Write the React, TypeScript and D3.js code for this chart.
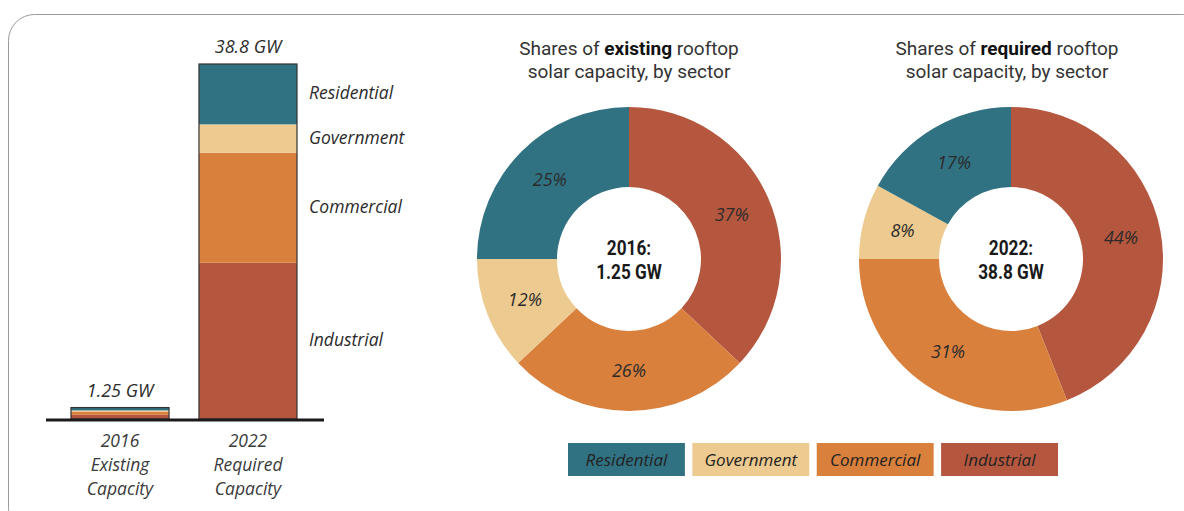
import React from 'react';
import * as d3 from 'd3';

const sectors = ['Residential', 'Government', 'Commercial', 'Industrial'];
const sectorColors = ['#317282', '#EDCA8F', '#D9803D', '#B5573E'];

const years = ['2016', '2022'];
const yearTotals = [1.25, 38.8];
const totalLabels = ['1.25 GW', '38.8 GW'];
const yearLabels = [
  ['2016', 'Existing', 'Capacity'],
  ['2022', 'Required', 'Capacity'],
];

// shares in % per sector (Residential, Government, Commercial, Industrial)
const shares2016 = [25, 12, 26, 37];
const shares2022 = [17, 8, 31, 44];

// pie order clockwise from 12 o'clock
const pieOrder = ['Industrial', 'Commercial', 'Government', 'Residential'];

const italic = "'Open Sans', sans-serif";
const narrow = "'Roboto', sans-serif";

const W = 1184;
const H = 511;

const BarPanel: React.FC = () => {
  const x = d3.scaleBand().domain(years).range([71, 297]).paddingInner(0.234).paddingOuter(0);
  const y = d3.scaleLinear().domain([0, 38.8]).range([419, 64]);
  const allShares = [shares2016, shares2022];

  const stacks = years.map((yr, i) => {
    const row: Record<string, number> = {};
    sectors.forEach((s, j) => (row[s] = (allShares[i][j] / 100) * yearTotals[i]));
    return row;
  });
  // bottom to top: Industrial, Commercial, Government, Residential
  const stackGen = d3.stack<Record<string, number>>().keys([...sectors].reverse());
  const series = stackGen(stacks);
  const bw = x.bandwidth();

  return (
    <g>
      {series.map((s) => {
        const color = sectorColors[sectors.indexOf(s.key)];
        return s.map((d, i) => (
          <rect
            key={s.key + i}
            x={x(years[i])!}
            y={y(d[1])}
            width={bw}
            height={y(d[0]) - y(d[1])}
            fill={color}
          />
        ));
      })}
      {years.map((yr, i) => (
        <rect
          key={'o' + yr}
          x={x(yr)!}
          y={y(yearTotals[i])}
          width={bw}
          height={y(0) - y(yearTotals[i])}
          fill="none"
          stroke="#333"
          strokeWidth={1.2}
        />
      ))}
      <line x1={46} x2={324} y1={y(0) + 1} y2={y(0) + 1} stroke="#1a1a1a" strokeWidth={3} />
      {years.map((yr, i) => (
        <text
          key={'t' + yr}
          x={x(yr)! + bw / 2}
          y={y(yearTotals[i]) - 11}
          textAnchor="middle"
          fontFamily={italic}
          fontStyle="italic"
          fontSize={18}
          fill="#2b2b2b"
        >
          {totalLabels[i]}
        </text>
      ))}
      {years.map((yr, i) =>
        yearLabels[i].map((l, k) => (
          <text
            key={'l' + yr + k}
            x={x(yr)! + bw / 2}
            y={447 + k * 24}
            textAnchor="middle"
            fontFamily={italic}
            fontStyle="italic"
            fontSize={17.5}
            fill="#3a3a3a"
          >
            {l}
          </text>
        ))
      )}
      {series.map((s) => {
        const d = s[1];
        return (
          <text
            key={'s' + s.key}
            x={x('2022')! + bw + 12}
            y={(y(d[0]) + y(d[1])) / 2 + 5}
            fontFamily={italic}
            fontStyle="italic"
            fontSize={17.5}
            fill="#2b2b2b"
          >
            {s.key}
          </text>
        );
      })}
    </g>
  );
};

type DonutProps = {
  cx: number;
  titleDx: number;
  shares: number[];
  titleBold: string;
  center: string[];
};

const Donut: React.FC<DonutProps> = ({ cx, titleDx, shares, titleBold, center }) => {
  const cy = 259;
  const outer = 152;
  const inner = 72;
  const data = pieOrder.map((s) => ({ key: s, value: shares[sectors.indexOf(s)] }));
  const pie = d3
    .pie<{ key: string; value: number }>()
    .sort(null)
    .value((d) => d.value);
  const arcs = pie(data);
  const arc = d3
    .arc<d3.PieArcDatum<{ key: string; value: number }>>()
    .innerRadius(inner)
    .outerRadius(outer);
  const labelArc = d3
    .arc<d3.PieArcDatum<{ key: string; value: number }>>()
    .innerRadius(112)
    .outerRadius(112);

  return (
    <g transform={`translate(${cx},${cy})`}>
      {arcs.map((a) => (
        <path key={a.data.key} d={arc(a)!} fill={sectorColors[sectors.indexOf(a.data.key)]} />
      ))}
      {arcs.map((a) => {
        const [lx, ly] = labelArc.centroid(a);
        return (
          <text
            key={'p' + a.data.key}
            x={lx}
            y={ly + 6}
            textAnchor="middle"
            fontFamily={italic}
            fontStyle="italic"
            fontSize={18}
            fill="#2b2b2b"
          >
            {a.data.value}%
          </text>
        );
      })}
      <text textAnchor="middle" x={titleDx} y={-204} fontFamily={narrow} fontSize={19} fill="#333">
        Shares of <tspan fontWeight="bold" fill="#111">{titleBold}</tspan> rooftop
      </text>
      <text textAnchor="middle" x={titleDx} y={-181} fontFamily={narrow} fontSize={19} fill="#333">
        solar capacity, by sector
      </text>
      {center.map((c, i) => (
        <text
          key={c}
          textAnchor="middle"
          transform={`translate(0,${-4 + i * 24}) scale(0.82,1)`}
          fontFamily={narrow}
          fontWeight="bold"
          fontSize={21}
          fill="#1a1a1a"
        >
          {c}
        </text>
      ))}
    </g>
  );
};

const Legend: React.FC = () => {
  const lx = d3.scaleBand().domain(sectors).range([568, 1058]).paddingInner(0.06);
  return (
    <g>
      {sectors.map((s, i) => (
        <g key={s}>
          <rect x={lx(s)!} y={443} width={lx.bandwidth()} height={33} fill={sectorColors[i]} />
          <text
            x={lx(s)! + lx.bandwidth() / 2}
            y={466}
            textAnchor="middle"
            fontFamily={italic}
            fontStyle="italic"
            fontSize={17}
            fill="#222"
          >
            {s}
          </text>
        </g>
      ))}
    </g>
  );
};

const App: React.FC = () => {
  return (
    <svg
      width={W}
      height={H}
      style={{ position: 'absolute', left: 0, top: 0, background: '#fff' }}
    >
      <rect x={8.5} y={14.5} width={1200} height={520} rx={26} fill="none" stroke="#9a9a9a" strokeWidth={1} />
      <BarPanel />
      <Donut cx={629} titleDx={0} shares={shares2016} titleBold="existing" center={['2016:', '1.25 GW']} />
      <Donut cx={1011} titleDx={-4} shares={shares2022} titleBold="required" center={['2022:', '38.8 GW']} />
      <Legend />
    </svg>
  );
};

export default App;
